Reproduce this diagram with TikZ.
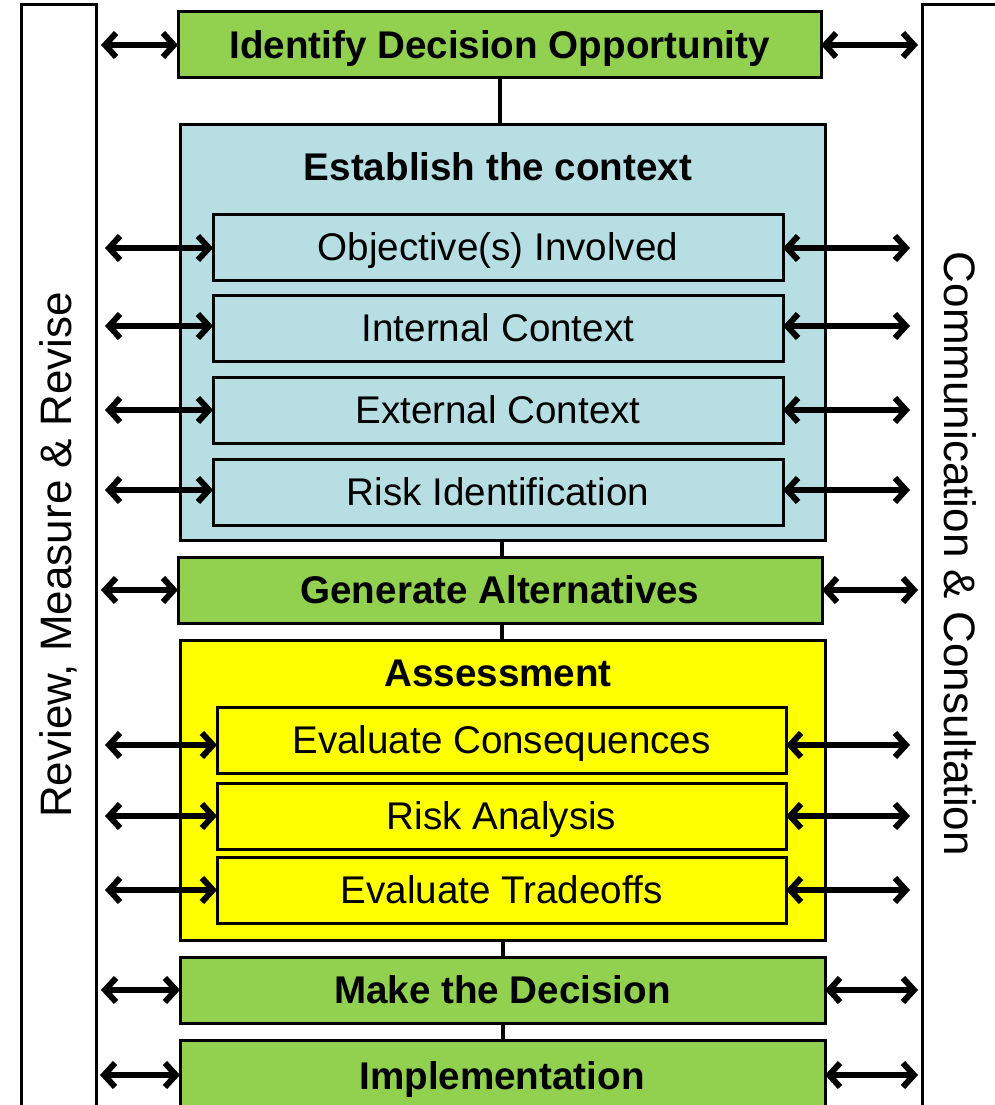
\documentclass[tikz,border=0pt]{standalone}
\usepackage{fontspec}
\setmainfont{Liberation Sans}
\usetikzlibrary{arrows.meta,calc}
\definecolor{gbox}{HTML}{92D050}
\definecolor{bbox}{HTML}{B7DFE3}
\definecolor{ybox}{HTML}{FFFF00}
\tikzset{
  every node/.style={inner sep=0pt, outer sep=0pt},
  bar/.style={draw=black, line width=3pt, fill=white},
  greenbox/.style={draw=black, line width=3pt, fill=gbox, text height=27.6pt, text depth=0pt, font=\fontsize{38.6}{40}\selectfont\bfseries},
  contbox/.style={draw=black, line width=3pt},
  subbox/.style={draw=black, line width=3pt, text height=27.6pt, text depth=0pt, font=\fontsize{38.6}{40}\selectfont},
  ctitle/.style={text height=27.6pt, text depth=0pt, font=\fontsize{38.6}{40}\selectfont\bfseries},
  sidetext/.style={font=\fontsize{44}{46}\selectfont},
  biarrow/.style={line width=6pt, {Straight Barb[length=11pt,width=24pt]}-{Straight Barb[length=11pt,width=24pt]}},
  link/.style={line width=4pt}
}
\begin{document}
\begin{tikzpicture}[x=1pt,y=-1pt]
\useasboundingbox (0,0) rectangle (994,1105);
% side bars
\node[bar, minimum width=75pt, minimum height=1130pt, anchor=north west] (lbar) at (21,5) {};
\node[bar, minimum width=90pt, minimum height=1130pt, anchor=north west] (rbar) at (922,5) {};
\node[sidetext, rotate=90] (ltext) at (58,555) {Review, Measure \& Revise};
\node[sidetext, rotate=-90] (rtext) at (960,554) {Communication \& Consultation};
% main boxes
\node[greenbox, minimum width=643pt, minimum height=66pt] (idop) at (499.5,45) {Identify Decision Opportunity};
\node[contbox, fill=bbox, minimum width=645pt, minimum height=415pt] (ctx) at (502.5,332.5) {};
\node[ctitle] (ctxt) at (498,167) {Establish the context};
\node[subbox, fill=bbox, minimum width=570pt, minimum height=66pt] (obj) at (498,247) {Objective(s) Involved};
\node[subbox, fill=bbox, minimum width=570pt, minimum height=66pt] (int) at (498,328) {Internal Context};
\node[subbox, fill=bbox, minimum width=570pt, minimum height=66pt] (ext) at (498,410) {External Context};
\node[subbox, fill=bbox, minimum width=570pt, minimum height=66pt] (rid) at (498,492) {Risk Identification};
\node[greenbox, minimum width=644pt, minimum height=66pt] (gen) at (500,590) {Generate Alternatives};
\node[contbox, fill=ybox, minimum width=645pt, minimum height=300pt] (ass) at (502.5,790) {};
\node[ctitle] (asst) at (498,673) {Assessment};
\node[subbox, fill=ybox, minimum width=569pt, minimum height=66pt] (evc) at (501.5,740) {Evaluate Consequences};
\node[subbox, fill=ybox, minimum width=569pt, minimum height=66pt] (ran) at (501.5,816) {Risk Analysis};
\node[subbox, fill=ybox, minimum width=569pt, minimum height=66pt] (evt) at (501.5,890) {Evaluate Tradeoffs};
\node[greenbox, minimum width=645pt, minimum height=66pt] (mak) at (502.5,990) {Make the Decision};
\node[greenbox, minimum width=645pt, minimum height=74pt, anchor=north] (imp) at (502.5,1040) {};
\node[ctitle] (impt) at (502,1076) {Implementation};
% vertical links
\draw[link] (idop.south -| 500,0) -- (ctx.north -| 500,0);
\draw[link] (ctx.south -| 502,0) -- (gen.north -| 502,0);
\draw[link] (gen.south -| 502,0) -- (ass.north -| 502,0);
\draw[link] (ass.south -| 503,0) -- (mak.north -| 503,0);
\draw[link] (mak.south -| 503,0) -- (imp.north -| 503,0);
% arrows for green boxes
\foreach \b in {idop,gen,mak}{
  \draw[biarrow] ([xshift=5pt]lbar.east |- \b.west) -- (\b.west);
  \draw[biarrow] (\b.east) -- ([xshift=-4pt]rbar.west |- \b.east);
}
\draw[biarrow] ([xshift=4pt]lbar.east |- 0,1075) -- (imp.west |- 0,1075);
\draw[biarrow] (imp.east |- 0,1075) -- ([xshift=-4pt]rbar.west |- 0,1075);
% arrows for sub boxes
\foreach \b/\y in {obj/248,int/326,ext/410,rid/490,evc/745,ran/816,evt/890}{
  \draw[biarrow] ([xshift=9pt]lbar.east |- 0,\y) -- (\b.west |- 0,\y);
  \draw[biarrow] (\b.east |- 0,\y) -- ([xshift=-12pt]rbar.west |- 0,\y);
}
\end{tikzpicture}
\end{document}
